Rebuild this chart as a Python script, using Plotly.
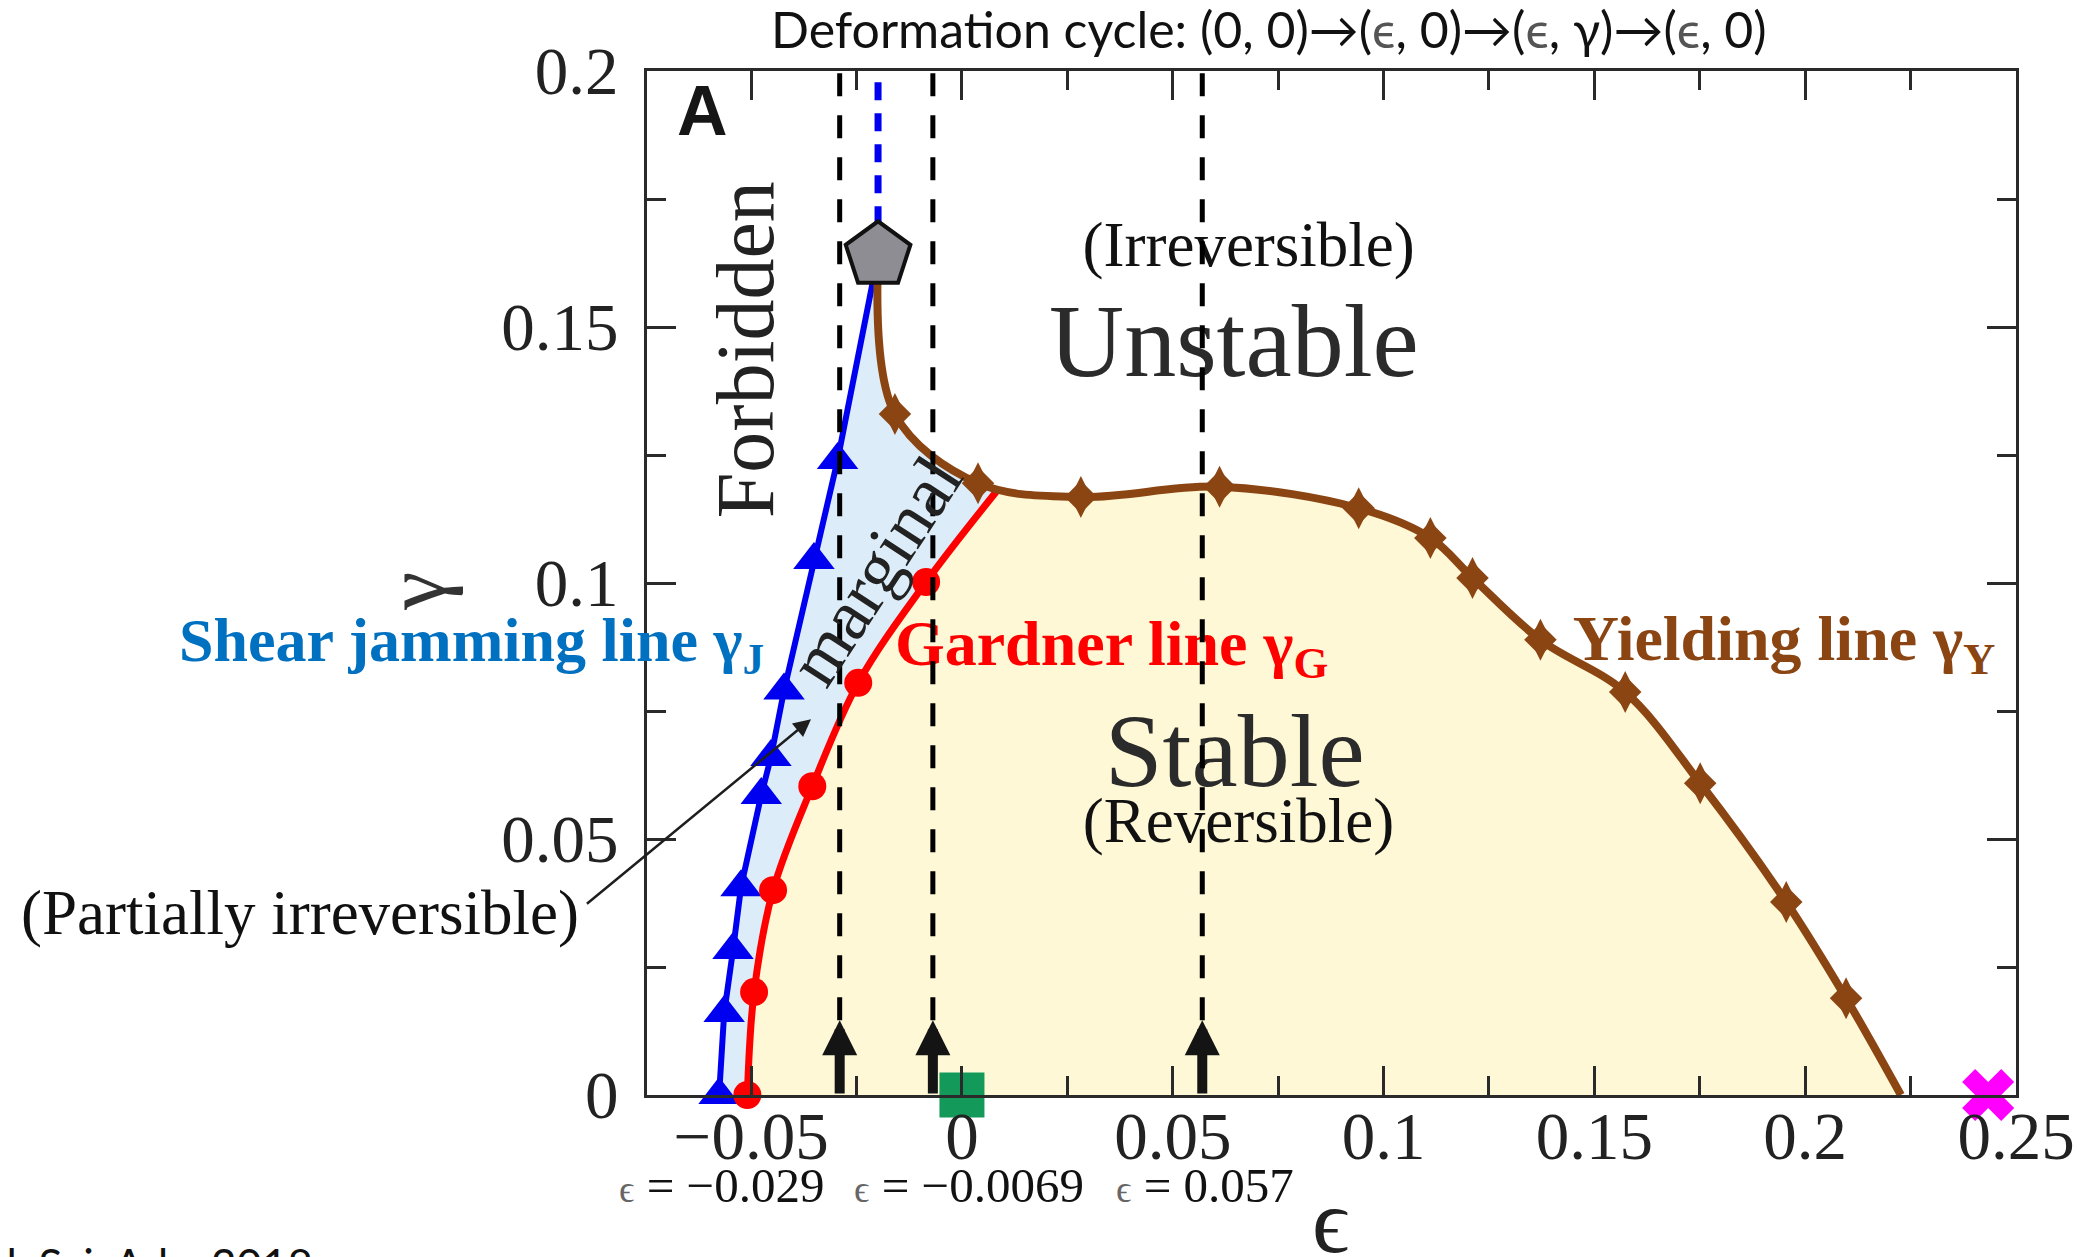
import plotly.graph_objects as go

# ---------------- data: strain ϵ (x) and shear strain γ (y) ----------------
# Shear jamming line γ_J (blue triangles)
jam_eps = [-0.0576, -0.0564, -0.0543, -0.0524, -0.0476, -0.0453, -0.0422, -0.0351, -0.0295]
jam_gam = [0.0, 0.0160, 0.0283, 0.0406, 0.0586, 0.0660, 0.0790, 0.1045, 0.1240]

# Gardner line γ_G (red circles) and the point where it meets the yielding line
gar_eps = [-0.0509, -0.0493, -0.0448, -0.0355, -0.0246, -0.0085]
gar_gam = [0.0, 0.0201, 0.0400, 0.0603, 0.0805, 0.1002]
gar_end_eps, gar_end_gam = 0.0085, 0.1182

# Yielding line γ_Y (brown diamonds) and where it reaches γ = 0
yld_eps = [-0.0159, 0.0038, 0.0282, 0.0611, 0.0941, 0.1111, 0.1211,
           0.1372, 0.1573, 0.1751, 0.1955, 0.2097]
yld_gam = [0.1330, 0.1195, 0.1168, 0.1188, 0.1146, 0.1088, 0.1010,
           0.0889, 0.0787, 0.0609, 0.0377, 0.0189]
yld_end_eps, yld_end_gam = 0.2227, 0.0

# Point where the jamming and yielding lines merge (pentagon)
pent_eps, pent_gam = -0.0199, 0.1640

# Compression values of the three deformation cycles
cycle_eps = [-0.029, -0.0069, 0.057]
cycle_text = ["−0.029", "−0.0069", "0.057"]
cycle_arrow_top = 0.0146

# Reference state (square) and cross on the ϵ axis
square_eps, square_gam = 0.0, 0.0
cross_eps, cross_gam = 0.2434, 0.0

# Axis ticks
x_major = [-0.05, 0.0, 0.05, 0.10, 0.15, 0.20, 0.25]
x_major_text = ["−0.05", "0", "0.05", "0.1", "0.15", "0.2", "0.25"]
x_minor = [-0.025, 0.025, 0.075, 0.125, 0.175, 0.225]
y_major = [0.0, 0.05, 0.10, 0.15, 0.20]
y_major_text = ["0", "0.05", "0.1", "0.15", "0.2"]
y_minor = [0.025, 0.075, 0.125, 0.175]

X_RANGE = [-0.0747, 0.25]
Y_RANGE = [0.0, 0.2]

# ---------------- styles ----------------
BLUE = "#0000f0"
RED = "#ff0000"
BROWN = "#8b4513"
BLUE_FILL = "#dcedf9"
YELLOW_FILL = "#fef8d6"
SERIF = "Liberation Serif, Times New Roman, serif"
SANS = "Lato, Liberation Sans, sans-serif"
AXIS = "#2a2a2a"


def px(eps):
    """ϵ value -> paper x (for labels that sit outside the axes)."""
    return (eps - X_RANGE[0]) / (X_RANGE[1] - X_RANGE[0])


def py(gam):
    """γ value -> paper y."""
    return (gam - Y_RANGE[0]) / (Y_RANGE[1] - Y_RANGE[0])


fig = go.Figure()

# marginal region (between jamming line and Gardner/yielding lines)
fig.add_trace(go.Scatter(
    x=jam_eps + [pent_eps], y=jam_gam + [pent_gam],
    mode="lines", line=dict(width=0), fill="tozeroy", fillcolor=BLUE_FILL,
    hoverinfo="skip"))
fig.add_trace(go.Scatter(
    x=[pent_eps] + yld_eps[:2] + [gar_end_eps], y=[pent_gam] + yld_gam[:2] + [gar_end_gam],
    mode="lines", line=dict(width=0, shape="spline"), fill="tozeroy", fillcolor=BLUE_FILL,
    hoverinfo="skip"))
# stable region (below Gardner and yielding lines)
fig.add_trace(go.Scatter(
    x=gar_eps + [gar_end_eps] + yld_eps[2:] + [yld_end_eps],
    y=gar_gam + [gar_end_gam] + yld_gam[2:] + [yld_end_gam],
    mode="lines", line=dict(width=0), fill="tozeroy", fillcolor=YELLOW_FILL,
    hoverinfo="skip"))


# region names inside the plot
def text_trace(x, y, txt, size, color, bold=False):
    if bold:
        txt = "<b>" + txt + "</b>"
    return go.Scatter(x=[x], y=[y], mode="text", text=[txt], textposition="middle center",
                      textfont=dict(family=SERIF, size=size, color=color),
                      hoverinfo="skip", cliponaxis=False)


fig.add_trace(text_trace(0.0680, 0.1650, "(Irreversible)", 63, "#111111"))
fig.add_trace(text_trace(0.0645, 0.1455, "Unstable", 104, "#2b2b2b"))
fig.add_trace(text_trace(0.0647, 0.0654, "Stable", 104, "#2b2b2b"))
fig.add_trace(text_trace(0.0656, 0.0525, "(Reversible)", 63, "#111111"))
fig.add_trace(text_trace(0.0355, 0.0872, "Gardner line γ<sub>G</sub>", 64, RED, bold=True))
fig.add_trace(text_trace(0.1950, 0.0880, "Yielding line γ<sub>Y</sub>", 64, BROWN, bold=True))

# shear jamming line
fig.add_trace(go.Scatter(x=jam_eps + [pent_eps], y=jam_gam + [pent_gam], mode="lines",
                         line=dict(color=BLUE, width=6), hoverinfo="skip", cliponaxis=False))
fig.add_trace(go.Scatter(x=jam_eps, y=jam_gam, mode="markers",
                         marker=dict(symbol="triangle-up", size=36, color=BLUE),
                         hoverinfo="skip", cliponaxis=False))
# Gardner line
fig.add_trace(go.Scatter(x=gar_eps + [gar_end_eps], y=gar_gam + [gar_end_gam], mode="lines",
                         line=dict(color=RED, width=7, shape="spline"),
                         hoverinfo="skip", cliponaxis=False))
fig.add_trace(go.Scatter(x=gar_eps, y=gar_gam, mode="markers",
                         marker=dict(symbol="circle", size=28, color=RED),
                         hoverinfo="skip", cliponaxis=False))
# yielding line
fig.add_trace(go.Scatter(x=[pent_eps] + yld_eps + [yld_end_eps],
                         y=[pent_gam] + yld_gam + [yld_end_gam], mode="lines",
                         line=dict(color=BROWN, width=8, shape="spline"),
                         hoverinfo="skip", cliponaxis=False))
# diamond markers: a tall diamond over a regular one gives the elongated shape
fig.add_trace(go.Scatter(x=yld_eps, y=yld_gam, mode="markers",
                         marker=dict(symbol="diamond", size=25, color=BROWN),
                         hoverinfo="skip", cliponaxis=False))
fig.add_trace(go.Scatter(x=yld_eps, y=yld_gam, mode="markers",
                         marker=dict(symbol="diamond-tall", size=30, color=BROWN),
                         hoverinfo="skip", cliponaxis=False))

# jamming line continues above the merging point
fig.add_trace(go.Scatter(x=[pent_eps, pent_eps], y=[pent_gam, 0.2], mode="lines",
                         line=dict(color=BLUE, width=7, dash="18px,13px"), hoverinfo="skip"))
fig.add_trace(go.Scatter(x=[pent_eps], y=[pent_gam], mode="markers",
                         marker=dict(symbol="pentagon", size=68, color="#8d8d93",
                                     line=dict(color="#111111", width=4)),
                         hoverinfo="skip", cliponaxis=False))

# deformation cycles at fixed ϵ
for e in cycle_eps:
    fig.add_trace(go.Scatter(x=[e, e], y=[cycle_arrow_top, 0.2], mode="lines",
                             line=dict(color="#000000", width=5, dash="23px,19px"),
                             hoverinfo="skip"))

fig.add_trace(go.Scatter(x=[square_eps], y=[square_gam], mode="markers",
                         marker=dict(symbol="square", size=45, color="#13995a"),
                         hoverinfo="skip", cliponaxis=False))
fig.add_trace(go.Scatter(x=[cross_eps], y=[cross_gam], mode="markers",
                         marker=dict(symbol="x", size=46, color="#ff00ff"),
                         hoverinfo="skip", cliponaxis=False))

annotations = []
# upward arrows of the shear step
for e in cycle_eps:
    annotations.append(dict(x=e, y=cycle_arrow_top, ax=e, ay=0.0, xref="x", yref="y",
                            axref="x", ayref="y", text="", showarrow=True,
                            arrowhead=2, arrowsize=0.7, arrowwidth=10, arrowcolor="#141414",
                            standoff=0))
# ϵ values of the cycles, below the axis
for pos, txt in zip([-0.0571, 0.0017, 0.0576], cycle_text):
    annotations.append(dict(x=px(pos), y=py(-0.0176), xref="paper", yref="paper",
                            xanchor="center", yanchor="middle", showarrow=False,
                            text="<span style='color:#666666;font-size:38px'>ϵ</span> = " + txt,
                            font=dict(family=SERIF, size=49, color="#111111")))

annotations += [
    dict(x=-0.0616, y=0.1922, xref="x", yref="y", showarrow=False, text="<b>A</b>",
         font=dict(family="Liberation Sans, Arial, sans-serif", size=70, color="#161616")),
    dict(x=-0.0514, y=0.1455, xref="x", yref="y", showarrow=False, text="Forbidden",
         textangle=-90, font=dict(family=SERIF, size=82, color="#222222")),
    dict(x=-0.0204, y=0.1025, xref="x", yref="y", showarrow=False, text="marginal",
         textangle=-57, font=dict(family=SERIF, size=72, color="#222222")),
    dict(x=px(-0.1164), y=py(0.0880), xref="paper", yref="paper", showarrow=False,
         xanchor="center", yanchor="middle",
         text="<b>Shear jamming line γ<sub>J</sub></b>",
         font=dict(family=SERIF, size=62, color="#0070c0")),
    dict(x=px(-0.1569), y=py(0.0355), xref="paper", yref="paper", showarrow=False,
         xanchor="center", yanchor="middle",
         text="(Partially irreversible)", font=dict(family=SERIF, size=63, color="#111111")),
    # pointer from the label into the marginal region
    dict(x=-0.0358, y=0.0734, ax=-0.0893, ay=0.0371, xref="x", yref="y", axref="x", ayref="y",
         text="", showarrow=True, arrowhead=2, arrowsize=1.4, arrowwidth=2.5,
         arrowcolor="#1e1e1e", standoff=0),
    # axis titles
    dict(x=px(-0.1296), y=py(0.0984), xref="paper", yref="paper", showarrow=False,
         xanchor="center", yanchor="middle",
         text="γ", textangle=-90, font=dict(family=SERIF, size=86, color="#333333")),
    dict(x=px(0.0874), y=py(-0.0246), xref="paper", yref="paper", showarrow=False,
         xanchor="center", yanchor="middle",
         text="ϵ", font=dict(family=SERIF, size=92, color="#222222")),
    # header line
    dict(x=(1269 - 647) / 1369, y=(1095 - 29) / 1024, xref="paper", yref="paper",
         showarrow=False, xanchor="center", yanchor="middle",
         text="Deformation cycle: (0, 0)→(<span style='color:#555555'>ϵ</span>, 0)→"
              "(<span style='color:#555555'>ϵ</span>, γ)→(<span style='color:#555555'>ϵ</span>, 0)",
         font=dict(family=SANS, size=50, color="#111111")),
    # source line at the lower-left corner
    dict(x=(315 - 647) / 1369, y=(1095 - 1236) / 1024, xref="paper", yref="paper",
         showarrow=False, xanchor="right", yanchor="top", text="Jin et al. Sci. Adv. 2018",
         font=dict(family=SANS, size=44, color="#111111")),
]

axis_common = dict(
    showgrid=False, zeroline=False, showline=True, linecolor=AXIS, linewidth=3,
    mirror="ticks", ticks="inside", ticklen=29, tickwidth=2.5, tickcolor=AXIS,
    tickfont=dict(family=SERIF, size=67, color="#222222"), layer="above traces",
)

fig.update_layout(
    width=2090, height=1257,
    margin=dict(l=647, r=74, t=71, b=162),
    paper_bgcolor="white", plot_bgcolor="white",
    showlegend=False,
    xaxis=dict(range=X_RANGE, tickmode="array", tickvals=x_major, ticktext=x_major_text,
               minor=dict(tickmode="array", tickvals=x_minor, ticks="inside", ticklen=19,
                          tickwidth=2.5, tickcolor=AXIS),
               ticklabelstandoff=-19, **axis_common),
    yaxis=dict(range=Y_RANGE, tickmode="array", tickvals=y_major, ticktext=y_major_text,
               minor=dict(tickmode="array", tickvals=y_minor, ticks="inside", ticklen=19,
                          tickwidth=2.5, tickcolor=AXIS),
               ticklabelstandoff=12, **axis_common),
    annotations=annotations,
)

fig.write_html("out.html")
